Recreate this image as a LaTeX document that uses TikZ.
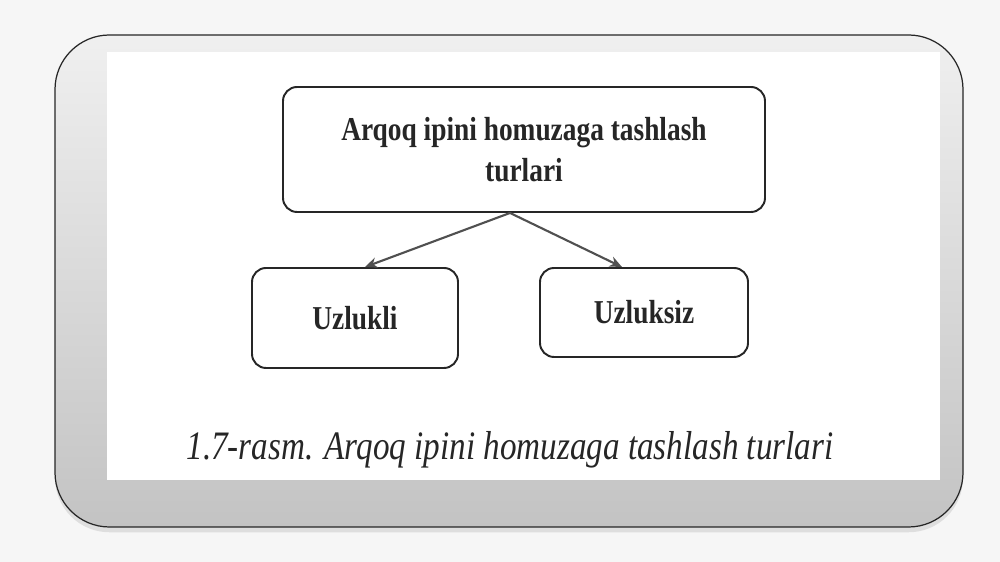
\documentclass[tikz,border=0pt]{standalone}
\usepackage{fontspec}
\setmainfont{Liberation Serif}
\newfontfamily\narrowserif[FakeStretch=0.82]{Liberation Serif}
\usetikzlibrary{shadows,arrows.meta}
\definecolor{inkgray}{HTML}{262626}
\definecolor{arrowgray}{HTML}{505050}

\begin{document}
\begin{tikzpicture}[thick,
  type node/.style={draw=inkgray,rounded corners=8pt,line width=1.1pt,text=inkgray,
    font=\narrowserif\bfseries\fontsize{19}{23}\selectfont,align=center,inner sep=0pt},
  frame/.style={draw=black!85,line width=0.7pt,rounded corners=31pt,
    top color=gray!12,bottom color=gray!47}]

  \fill[gray!7] (0,0) rectangle (20,11.24);
  % slide frame
  \path[frame,drop shadow={opacity=0.2,shadow xshift=0pt,shadow yshift=-3pt}]
    (1.1,0.7) rectangle (19.26,10.54);
  \fill[white] (2.14,1.64) rectangle (18.8,10.2);

  \node[type node,minimum width=9.64cm,minimum height=2.5cm] (top) at (10.48,8.25)
    {Arqoq ipini homuzaga tashlash\\turlari};
  \node[type node,minimum width=4.12cm,minimum height=2cm] (left) at (7.1,4.88) {Uzlukli};
  \node[type node,minimum width=4.16cm,minimum height=1.78cm] (right) at (12.88,4.99) {Uzluksiz};
  \node[text=inkgray,font=\narrowserif\itshape\fontsize{23}{28}\selectfont] (caption) at (10.2,2.25)
    {1.7-rasm. Arqoq ipini homuzaga tashlash turlari};

  \coordinate (fork) at ([xshift=-2.8mm]top.south);
  \path[color=arrowgray,line width=1.2pt,-{Stealth[length=7pt,width=6pt]}]
  (fork) edge ([xshift=2mm]left.north)
  (fork) edge ([xshift=-4.4mm]right.north);
\end{tikzpicture}
\end{document}
